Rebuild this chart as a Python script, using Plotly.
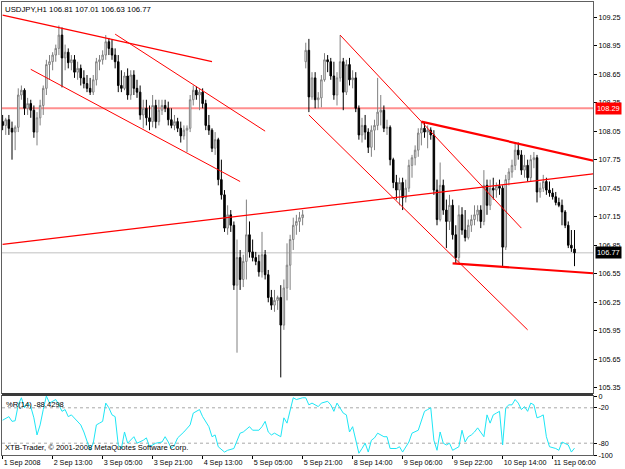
import plotly.graph_objects as go

# ---------------- data ----------------
bars = list(range(184))
open_ = [108.15,108.11,108.17,108.08,108.04,108.09,108.43,108.48,108.29,108.34,
         108.27,108.04,108.19,108.32,108.50,108.75,108.78,108.85,108.92,109.06,
         108.82,108.88,108.77,108.80,108.67,108.71,108.61,108.55,108.50,108.46,
         108.59,108.78,108.80,108.85,108.99,108.92,108.85,108.78,108.53,108.50,
         108.63,108.43,108.64,108.50,108.46,108.22,108.29,108.19,108.15,108.32,
         108.15,108.27,108.32,108.29,108.17,108.11,108.15,108.08,108.00,108.06,
         108.08,108.38,108.48,108.43,108.46,108.34,108.11,108.06,107.87,107.96,
         107.54,107.38,107.03,107.17,107.06,106.43,106.72,106.49,106.68,106.96,
         106.78,106.72,106.68,106.57,106.75,106.54,106.30,106.22,106.27,106.30,
         106.01,106.40,106.64,106.91,107.06,107.10,107.14,108.78,108.90,108.41,
         108.61,108.38,108.40,108.59,108.80,108.78,108.63,108.43,108.61,108.78,
         108.46,108.75,108.59,108.61,108.29,108.01,108.11,108.04,107.88,108.06,
         108.11,108.25,108.27,108.08,108.09,107.75,107.51,107.43,107.51,107.35,
         107.45,107.69,107.77,107.85,108.03,108.08,108.04,108.06,108.01,107.43,
         107.12,107.48,107.22,107.10,107.27,106.96,106.72,107.17,107.01,106.93,
         107.06,107.12,107.17,107.22,107.10,107.48,107.27,107.45,107.43,107.47,
         107.45,106.83,107.54,107.62,107.69,107.85,107.80,107.64,107.69,107.56,
         107.75,107.77,107.41,107.45,107.52,107.43,107.40,107.36,107.30,107.27,
         107.20,107.06,106.85,106.81]
high = [108.22,108.19,108.22,108.15,108.11,108.50,108.53,108.50,108.40,108.38,
        108.32,108.25,108.38,108.53,108.80,108.85,108.88,108.96,109.16,109.14,
        108.96,108.92,108.85,108.85,108.78,108.75,108.69,108.64,108.61,108.64,
        108.82,108.85,108.90,109.06,109.03,109.01,108.92,108.85,108.69,108.67,
        108.71,108.69,108.69,108.59,108.53,108.38,108.38,108.32,108.43,108.38,
        108.38,108.38,108.38,108.36,108.29,108.22,108.19,108.15,108.11,108.11,
        108.43,108.53,108.52,108.50,108.50,108.38,108.22,108.08,108.04,107.98,
        107.75,107.43,107.27,107.22,107.10,106.91,106.80,106.75,107.33,107.10,
        106.91,106.78,106.75,106.99,106.80,106.59,106.38,106.38,106.32,106.43,
        106.49,106.87,106.96,107.14,107.17,107.20,107.22,108.98,109.02,108.67,
        108.67,108.46,108.64,108.87,108.85,108.82,108.78,108.67,109.06,108.82,
        108.80,108.82,108.69,108.67,108.32,108.19,108.22,108.08,108.11,108.17,
        108.61,108.43,108.32,108.17,108.11,107.77,107.59,107.56,107.56,107.54,
        107.75,107.80,107.90,108.08,108.15,108.14,108.11,108.09,108.06,107.54,
        107.72,107.54,107.33,107.38,107.33,107.06,107.27,107.25,107.22,107.12,
        107.17,107.27,107.27,107.27,107.64,107.54,107.54,107.56,107.51,107.54,
        107.48,107.59,107.66,107.75,107.93,107.93,107.85,107.80,107.75,107.80,
        107.83,107.80,107.51,107.59,107.56,107.52,107.45,107.41,107.35,107.33,
        107.22,107.10,107.01,107.01]
low = [108.06,108.01,108.01,107.75,107.85,108.04,108.38,108.22,108.22,108.19,
       107.98,107.90,108.11,108.22,108.43,108.59,108.69,108.78,108.85,108.51,
       108.69,108.71,108.69,108.61,108.59,108.53,108.50,108.46,108.43,108.43,
       108.53,108.69,108.75,108.80,108.85,108.80,108.71,108.46,108.46,108.48,
       108.38,108.38,108.43,108.40,108.17,108.08,108.11,108.06,108.09,108.08,
       108.11,108.22,108.25,108.11,108.08,108.06,108.04,107.93,107.96,107.83,
       108.04,108.32,108.38,108.27,108.29,108.06,108.01,107.83,107.80,107.48,
       107.33,106.99,106.96,106.99,106.38,105.72,106.38,106.41,106.49,106.72,
       106.68,106.64,106.52,106.51,106.49,106.25,106.17,106.15,106.17,105.46,
       105.96,106.27,106.38,106.80,106.96,106.99,107.06,108.71,108.25,108.38,
       108.29,108.29,108.30,108.57,108.67,108.59,108.38,108.32,108.57,108.27,
       108.43,108.53,108.50,108.25,107.96,107.93,107.96,107.82,107.78,107.85,
       108.06,108.11,108.04,108.01,107.69,107.45,107.33,107.27,107.22,107.30,
       107.41,107.56,107.69,107.78,107.90,107.98,107.87,107.96,107.38,107.06,
       107.10,107.17,106.82,107.01,106.91,106.66,106.67,106.96,106.89,106.91,
       106.99,107.06,107.10,107.03,107.06,107.17,107.22,107.33,107.35,107.38,
       106.62,106.80,107.48,107.56,107.64,107.75,107.59,107.56,107.52,107.52,
       107.66,107.30,107.35,107.41,107.38,107.36,107.33,107.27,107.25,107.06,
       107.03,106.82,106.78,106.63]
close = [108.11,108.17,108.08,108.04,108.09,108.43,108.48,108.29,108.34,108.27,
         108.04,108.19,108.32,108.50,108.75,108.78,108.85,108.92,109.06,108.82,
         108.88,108.77,108.80,108.67,108.71,108.61,108.55,108.50,108.46,108.59,
         108.78,108.80,108.85,108.99,108.92,108.85,108.78,108.53,108.50,108.63,
         108.43,108.64,108.50,108.46,108.22,108.29,108.19,108.15,108.32,108.15,
         108.27,108.32,108.29,108.17,108.11,108.15,108.08,108.00,108.06,108.08,
         108.38,108.48,108.43,108.46,108.34,108.11,108.06,107.87,107.96,107.54,
         107.38,107.03,107.17,107.06,106.43,106.72,106.49,106.68,106.96,106.78,
         106.72,106.68,106.57,106.75,106.54,106.30,106.22,106.27,106.30,106.01,
         106.40,106.64,106.91,107.06,107.10,107.14,107.17,108.90,108.41,108.61,
         108.38,108.40,108.59,108.80,108.78,108.63,108.43,108.61,108.78,108.46,
         108.75,108.59,108.61,108.29,108.01,108.11,108.04,107.88,108.06,108.11,
         108.25,108.27,108.08,108.09,107.75,107.51,107.43,107.51,107.35,107.45,
         107.69,107.77,107.85,108.03,108.08,108.04,108.06,108.01,107.43,107.12,
         107.48,107.22,107.10,107.27,106.96,106.72,107.17,107.01,106.93,107.06,
         107.12,107.17,107.22,107.10,107.48,107.27,107.45,107.43,107.47,107.45,
         106.83,107.54,107.62,107.69,107.85,107.80,107.64,107.69,107.56,107.75,
         107.77,107.41,107.45,107.52,107.43,107.40,107.36,107.30,107.27,107.20,
         107.06,106.85,106.82,106.77]

# Williams %R(14) readings (bar index, value)
wr_bar = [0,2,3,4,5,6,7,8,9,10,11,12,13,14,15,17,18,19,20,21,22,24,25,26,27,28,29,30,31,32,
          33,34,35,36,37,38,39,40,42,43,45,46,47,49,51,52,53,54,55,56,58,60,61,62,63,64,66,67,68,69,
          71,72,74,76,77,79,80,82,83,84,85,86,87,89,90,91,92,93,94,96,97,98,99,101,102,104,105,106,107,108,
          109,110,111,112,113,114,115,116,117,118,119,120,122,123,124,126,127,128,130,131,133,134,135,136,137,138,139,140,141,142,
          143,144,146,147,148,149,150,151,152,154,155,156,157,158,159,160,161,162,163,164,165,166,167,168,169,170,171,172,173,174,
          175,177,178,179,181,182,183]
wr_val = [-41,-35,-43,-42,-15,-3,-20,-12,-18,-37,-66,-49,-23,0,-12,-6,-15,-26,-23,-35,-32,-43,-49,-61,-78,-92,-80,-49,-46,-43,
          -12,-20,-32,-35,-83,-89,-61,-80,-69,-80,-75,-71,-86,-80,-78,-69,-78,-89,-83,-71,-61,-49,-29,-26,-23,-35,-52,-69,-66,-86,
          -95,-92,-89,-63,-61,-52,-58,-58,-52,-43,-61,-66,-63,-69,-37,-46,-26,-3,-6,-3,-3,-15,-12,-18,-12,-9,-15,-26,-12,-20,
          -29,-32,-61,-52,-75,-97,-89,-80,-95,-75,-71,-63,-69,-69,-89,-89,-86,-95,-78,-63,-58,-40,-26,-23,-20,-75,-92,-61,-80,-83,
          -80,-92,-86,-58,-78,-69,-66,-61,-54,-69,-32,-46,-32,-29,-26,-83,-20,-15,-15,-6,-12,-23,-18,-26,-12,-15,-37,-35,-32,-69,
          -86,-89,-92,-78,-83,-95,-88.4298]
wr_levels = [-20, -80]

date_tick_bars = [0, 16, 32, 48, 64, 80, 96, 112, 128, 144, 160, 176]
date_tick_labels = ["1 Sep 2008", "2 Sep 13:00", "3 Sep 05:00", "3 Sep 21:00", "4 Sep 13:00",
                    "5 Sep 05:00", "5 Sep 21:00", "8 Sep 14:00", "9 Sep 06:00", "9 Sep 22:00",
                    "10 Sep 14:00", "11 Sep 06:00"]
price_ticks = [109.25, 108.95, 108.65, 108.35, 108.05, 107.75, 107.45, 107.15,
               106.85, 106.55, 106.25, 105.95, 105.65, 105.35]
wr_ticks = [0, -20, -80, -100]

# trend lines drawn on the chart: (bar0, price0, bar1, price1)
trend_x0 = [0, 9, 36, 0, 108, 98, 134, 144]
trend_y0 = [109.27, 108.70, 109.07, 106.86, 109.06, 108.22, 108.15, 106.66]
trend_x1 = [67, 76, 84, 189, 166, 168, 189, 189]
trend_y1 = [108.78, 107.52, 108.05, 107.60, 107.03, 105.96, 107.74, 106.555]
hline_price = 108.29

symbol_text = "USDJPY,H1 106.81 107.01 106.63 106.77"
wr_text = "%R(14) -88.4298"
copyright_text = "XTB-Trader, © 2001-2008 MetaQuotes Software Corp."

# ---------------- styling ----------------
FONT = "Liberation Sans, Arial, sans-serif"
trend_widths = [1.2, 1.0, 1.0, 1.2, 1.0, 1.0, 2.2, 2.2]

fig = go.Figure()

fig.add_trace(go.Candlestick(
    x=bars, open=open_, high=high, low=low, close=close,
    xaxis="x", yaxis="y",
    increasing=dict(line=dict(color="#808080", width=1), fillcolor="#ffffff"),
    decreasing=dict(line=dict(color="#000000", width=1), fillcolor="#000000"),
    whiskerwidth=0, hoverinfo="skip", showlegend=False))

for k in range(len(trend_x0)):
    fig.add_trace(go.Scatter(
        x=[trend_x0[k], trend_x1[k]], y=[trend_y0[k], trend_y1[k]],
        mode="lines", line=dict(color="#ff0000", width=trend_widths[k]),
        xaxis="x", yaxis="y", hoverinfo="skip", showlegend=False))

fig.add_trace(go.Scatter(
    x=wr_bar, y=wr_val, mode="lines", line=dict(color="#1ee6f5", width=1),
    xaxis="x2", yaxis="y2", hoverinfo="skip", showlegend=False))

W, H = 625, 469
ml, mr, mt, mb = 2, 32, 2, 14
ph = H - mt - mb
main_bottom = (H - mb - 393) / ph
ind_top = (H - mb - 396) / ph

xrange_ = [-0.2, 188.92]

shapes = []
shapes.append(dict(type="line", xref="x domain", yref="y", x0=0, x1=1,
                   y0=hline_price, y1=hline_price,
                   line=dict(color="#ff8f8f", width=2), layer="below"))
shapes.append(dict(type="line", xref="x domain", yref="y", x0=0, x1=1,
                   y0=close[-1], y1=close[-1],
                   line=dict(color="#c0c0c0", width=1), layer="below"))
for lv in wr_levels:
    shapes.append(dict(type="line", xref="x2 domain", yref="y2", x0=0, x1=1,
                       y0=lv, y1=lv, line=dict(color="#a8a8a8", width=1, dash="dot"),
                       layer="below"))
shapes.append(dict(type="rect", xref="paper", yref="paper", x0=0, x1=1,
                   y0=ind_top, y1=main_bottom, fillcolor="#3a3a3a", line=dict(width=0)))

annotations = [
    dict(text=symbol_text, xref="paper", yref="paper", x=0.002, y=(H - mb - 10) / ph,
         xanchor="left", yanchor="middle", showarrow=False,
         font=dict(family=FONT, size=7.8, color="#000000")),
    dict(text=wr_text, xref="paper", yref="paper", x=0.004, y=(H - mb - 404) / ph,
         xanchor="left", yanchor="middle", showarrow=False,
         font=dict(family=FONT, size=7.6, color="#000000")),
    dict(text=copyright_text, xref="paper", yref="paper", x=0.001, y=(H - mb - 447) / ph,
         xanchor="left", yanchor="middle", showarrow=False,
         font=dict(family=FONT, size=7.6, color="#000000")),
    dict(text="%.2f" % hline_price, xref="paper", yref="y", x=1, y=hline_price,
         xanchor="left", yanchor="middle", xshift=2, showarrow=False,
         bgcolor="#ff0000", borderpad=1,
         font=dict(family=FONT, size=7.4, color="#ffffff")),
    dict(text="%.2f" % close[-1], xref="paper", yref="y", x=1, y=close[-1],
         xanchor="left", yanchor="middle", xshift=2, showarrow=False,
         bgcolor="#000000", borderpad=1,
         font=dict(family=FONT, size=7.4, color="#ffffff")),
]

axis_common = dict(showgrid=False, zeroline=False, showline=True,
                   linecolor="#606060", linewidth=1, mirror=True,
                   tickfont=dict(family=FONT, size=7.2, color="#000000"),
                   ticks="outside", ticklen=3, tickcolor="#000000", tickwidth=1,
                   automargin=False, tickangle=0)

fig.update_layout(
    width=W, height=H,
    margin=dict(l=ml, r=mr, t=mt, b=mb, autoexpand=False),
    paper_bgcolor="#ffffff", plot_bgcolor="#ffffff",
    showlegend=False, hovermode=False,
    xaxis=dict(domain=[0, 1], anchor="y", range=xrange_, showticklabels=False,
               rangeslider=dict(visible=False), ticks="", automargin=False,
               showgrid=False, zeroline=False, showline=True,
               linecolor="#606060", mirror=True),
    yaxis=dict(domain=[main_bottom, 1], anchor="x", side="right",
               range=[105.296, 109.408], tickvals=price_ticks,
               ticktext=["%.2f" % v for v in price_ticks], **axis_common),
    xaxis2=dict(domain=[0, 1], anchor="y2", range=xrange_, matches="x",
                tickvals=date_tick_bars, ticktext=date_tick_labels,
                ticklabelposition="outside right", **axis_common),
    yaxis2=dict(domain=[0, ind_top], anchor="x2", side="right",
                range=[-100, 0], tickvals=wr_ticks,
                ticktext=[str(v) for v in wr_ticks], **axis_common),
    shapes=shapes, annotations=annotations,
)

fig.write_html("out.html", config={"displayModeBar": False})
